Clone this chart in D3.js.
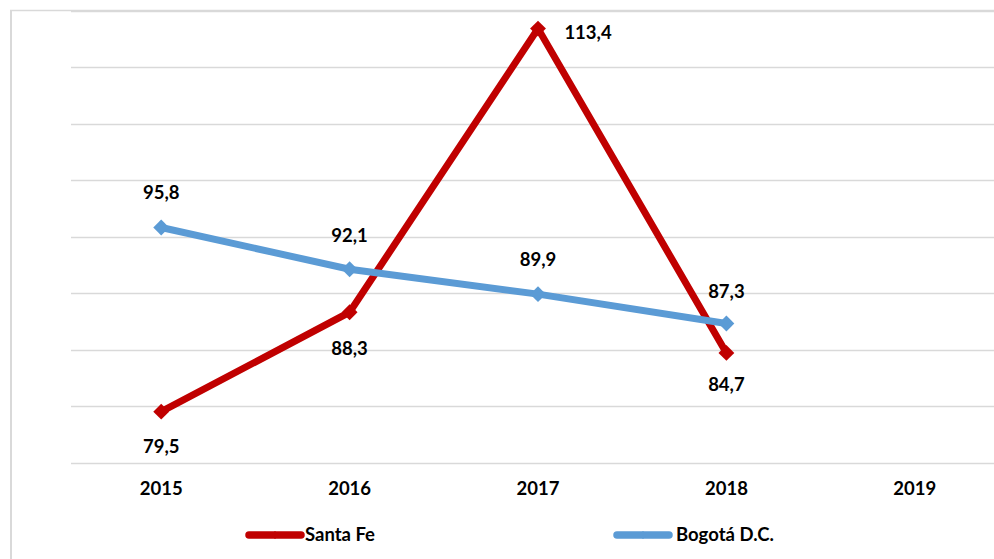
<!DOCTYPE html>
<html><head><meta charset="utf-8">
<script src="https://cdn.jsdelivr.net/npm/d3@7/dist/d3.min.js"></script>
<style>body{margin:0;background:#fff}svg{display:block}</style>
</head><body>
<script>
const years = ["2015","2016","2017","2018","2019"];
const santaFe = [79.5, 88.3, 113.4, 84.7];
const bogota = [95.8, 92.1, 89.9, 87.3];
const yTicks = [75,80,85,90,95,100,105,110,115];
const seriesNames = ["Santa Fe","Bogotá D.C."];
const colors = ["#C00000","#5B9BD5"];

const W=994,H=559;
const svg=d3.select("body").append("svg").attr("width",W).attr("height",H);
const font="Lato, 'Open Sans', sans-serif";

// frame
svg.append("line").attr("x1",11).attr("x2",11).attr("y1",10).attr("y2",H).attr("stroke","#d9d9d9").attr("stroke-width",2);
svg.append("line").attr("x1",10).attr("x2",W).attr("y1",10.5).attr("y2",10.5).attr("stroke","#d9d9d9").attr("stroke-width",1.5);

const x=d3.scaleBand().domain(years).range([67,1009]);
const y=d3.scaleLinear().domain([75,115]).range([462.5,10.5]);
const cx=d=>x(d)+x.bandwidth()/2;

svg.append("g").selectAll("line").data(yTicks).join("line")
 .attr("x1",71).attr("x2",W).attr("y1",d=>Math.round(y(d))+0.5).attr("y2",d=>Math.round(y(d))+0.5)
 .attr("stroke","#d9d9d9").attr("stroke-width",1.3);

// x axis labels
const xa=svg.append("g").attr("transform","translate(0,462)")
 .call(d3.axisBottom(x).tickSize(0).tickPadding(0));
xa.select(".domain").remove();
xa.selectAll("text").attr("dy",null).attr("y",33).attr("font-family",font).attr("font-weight","bold").attr("font-size",18.5).attr("fill","#000");

function series(vals,color){
  const pts=vals.map((v,i)=>[cx(years[i]),y(v)]);
  svg.append("path").attr("d",d3.line()(pts)).attr("fill","none").attr("stroke",color).attr("stroke-width",7).attr("stroke-linejoin","miter");
  svg.append("g").selectAll("path").data(pts).join("path")
   .attr("transform",d=>`translate(${d[0]},${d[1]})`)
   .attr("d",d3.symbol(d3.symbolDiamond2,160)()).attr("fill",color);
  return pts;
}
const p1=series(santaFe,colors[0]);
const p2=series(bogota,colors[1]);

function fmt(v){return v.toFixed(1).replace(".",",");}
const lab=svg.append("g").attr("font-family",font).attr("font-weight","bold").attr("font-size",18.5).attr("fill","#000");
const sfOff=[[0,41],[0,43],[50,10],[0,38]];
santaFe.forEach((v,i)=>{
  lab.append("text").attr("x",p1[i][0]+sfOff[i][0]).attr("y",p1[i][1]+sfOff[i][1]).attr("text-anchor","middle").text(fmt(v));
});
const bgOff=[-28,-27,-28,-26];
bogota.forEach((v,i)=>{
  lab.append("text").attr("x",p2[i][0]).attr("y",p2[i][1]+bgOff[i]).attr("text-anchor","middle").text(fmt(v));
});

// legend
const leg=[{x:246,tx:305},{x:614,tx:676}];
seriesNames.forEach((n,i)=>{
  const g=svg.append("g");
  g.append("line").attr("x1",leg[i].x+3).attr("x2",leg[i].x+55).attr("y1",535).attr("y2",535)
   .attr("stroke",colors[i]).attr("stroke-width",7.5).attr("stroke-linecap","round");
  g.append("path").attr("transform",`translate(${leg[i].x+29},535)`).attr("d",d3.symbol(d3.symbolDiamond2,40)()).attr("fill",colors[i]);
  g.append("text").attr("x",leg[i].tx).attr("y",541).attr("font-family",font).attr("font-weight","bold").attr("font-size",18.5).attr("fill","#000").text(n);
});
</script>
</body></html>
